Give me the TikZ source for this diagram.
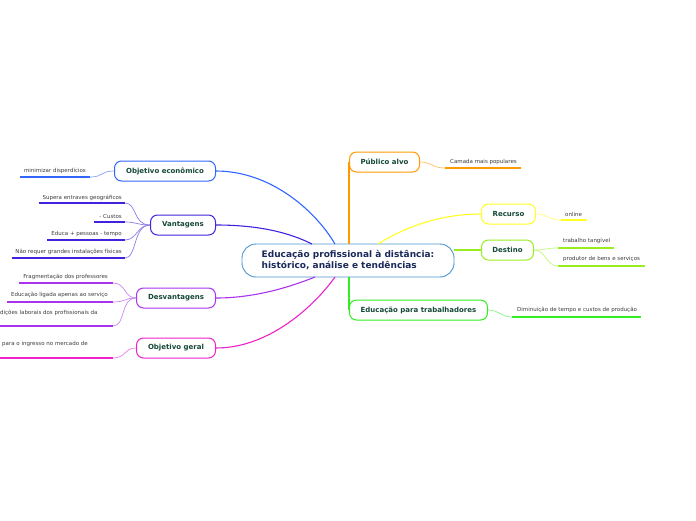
\documentclass[tikz,border=0pt]{standalone}
\usepackage{fontspec}
\setmainfont{DejaVu Sans}
\definecolor{mainline}{RGB}{74,150,210}
\definecolor{maintext}{RGB}{26,42,90}
\definecolor{topictext}{RGB}{22,72,58}
\definecolor{leaftext}{RGB}{60,60,60}
\definecolor{econ}{RGB}{51,102,255}
\definecolor{vant}{RGB}{68,34,221}
\definecolor{desv}{RGB}{170,51,238}
\definecolor{geral}{RGB}{238,34,204}
\definecolor{publico}{RGB}{255,153,0}
\definecolor{recurso}{RGB}{255,255,34}
\definecolor{destino}{RGB}{153,238,34}
\definecolor{trab}{RGB}{51,238,34}
\begin{document}
\begin{tikzpicture}[x=1pt,y=-1pt,
    topic/.style={draw, rounded corners=7pt, line width=1pt, fill=white, text=topictext,
      font=\fontsize{7}{8}\selectfont\bfseries, minimum height=20pt, inner xsep=3pt},
    leaf/.style={font=\fontsize{5.5}{6.5}\selectfont, text=leaftext, inner sep=0pt},
    branch/.style={line width=1.1pt},
    under/.style={line width=1.4pt},
    twig/.style={line width=0.7pt}]
  \useasboundingbox (0,0) rectangle (696,520);

  % central topic
  \node[draw=mainline, line width=0.9pt, rounded corners=14pt, fill=white, text=maintext,
    font=\fontsize{9}{11}\selectfont\bfseries, align=left, minimum width=212pt,
    minimum height=33pt] (main) at (348,260.5)
    {Educação profissional à distância:\\histórico, análise e tendências};

  % main topics
  \node[topic, draw=econ, minimum width=101pt, anchor=east] (econ) at (216,171) {Objetivo econômico};
  \node[topic, draw=vant, minimum width=65pt, anchor=east] (vant) at (216,225) {Vantagens};
  \node[topic, draw=desv, minimum width=79pt, anchor=east] (desv) at (216,298) {Desvantagens};
  \node[topic, draw=geral, minimum width=79pt, anchor=east] (geral) at (216,348) {Objetivo geral};
  \node[topic, draw=publico, minimum width=70pt, anchor=west] (publico) at (349,162) {Público alvo};
  \node[topic, draw=recurso, minimum width=54pt, anchor=west] (recurso) at (481,214) {Recurso};
  \node[topic, draw=destino, minimum width=52pt, anchor=west] (destino) at (481,250) {Destino};
  \node[topic, draw=trab, minimum width=138pt, anchor=west] (trab) at (349,310) {Educação para trabalhadores};

  % branches from the central topic
  \coordinate (m1) at (335,244);
  \coordinate (m2) at (312,244);
  \coordinate (m3) at (315,277);
  \coordinate (m4) at (335,277);
  \coordinate (m5) at (378,244);
  \coordinate (m6) at (454,250);
  \draw[econ, branch] (econ.east) .. controls (270,171) and (315,210) .. (m1);
  \draw[vant, branch] (vant.east) .. controls (260,225) and (290,233) .. (m2);
  \draw[desv, branch] (desv.east) .. controls (255,298) and (290,287) .. (m3);
  \draw[geral, branch] (geral.east) .. controls (270,348) and (315,305) .. (m4);
  \draw[recurso, branch] (m5) .. controls (410,224) and (445,214) .. (recurso.west);
  \draw[destino, branch] (m6) -- (destino.west);
  \draw[publico, line width=1.6pt] (publico.west) -- (publico.west |- main.north);
  \draw[trab, line width=1.6pt] (trab.west) -- (trab.west |- main.south);

  % leaves on the left
  \coordinate (e1a) at (20,177);  \coordinate (e1b) at (90,177);
  \coordinate (v1a) at (39,203);  \coordinate (v1b) at (125,203);
  \coordinate (v2a) at (94,222);  \coordinate (v2b) at (125,222);
  \coordinate (v3a) at (47,240);  \coordinate (v3b) at (125,240);
  \coordinate (v4a) at (12,258);  \coordinate (v4b) at (125,258);
  \coordinate (d1a) at (19,283);  \coordinate (d1b) at (113,283);
  \coordinate (d2a) at (7,302);   \coordinate (d2b) at (113,302);
  \coordinate (d3a) at (0,326);   \coordinate (d3b) at (113,326);
  \coordinate (g1a) at (0,358);   \coordinate (g1b) at (113,358);

  \draw[econ, under] (e1a) -- (e1b);
  \draw[vant, under] (v1a) -- (v1b);
  \draw[vant, under] (v2a) -- (v2b);
  \draw[vant, under] (v3a) -- (v3b);
  \draw[vant, under] (v4a) -- (v4b);
  \draw[desv, under] (d1a) -- (d1b);
  \draw[desv, under] (d2a) -- (d2b);
  \draw[desv, under] (d3a) -- (d3b);
  \draw[geral, under] (g1a) -- (g1b);

  \node[leaf, anchor=east] (e1) at (86,171) {minimizar disperdícios};
  \node[leaf, anchor=east] (v1) at (122,198) {Supera entraves geográficos};
  \node[leaf, anchor=east] (v2) at (122,216) {- Custos};
  \node[leaf, anchor=east] (v3) at (122,234) {Educa + pessoas - tempo};
  \node[leaf, anchor=east] (v4) at (122,252) {Não requer grandes instalações físicas};
  \node[leaf, anchor=east] (d1) at (108,277) {Fragmentação dos professores};
  \node[leaf, anchor=east] (d2) at (108,294.5) {Educação ligada apenas ao serviço};
  \node[leaf, anchor=west] (d3) at (0,313) {dições laborais dos profissionais da};
  \node[leaf, anchor=west] (g1) at (2,344) {para o ingresso no mercado de};

  \draw[econ!60, twig] (econ.west) .. controls (100,171) and (104,177) .. (e1b);
  \draw[vant!60, twig] (vant.west) .. controls (133,225) and (137,203) .. (v1b);
  \draw[vant!60, twig] (vant.west) .. controls (137,225) and (137,222) .. (v2b);
  \draw[vant!60, twig] (vant.west) .. controls (137,225) and (137,240) .. (v3b);
  \draw[vant!60, twig] (vant.west) .. controls (133,225) and (137,258) .. (v4b);
  \draw[desv!60, twig] (desv.west) .. controls (124,298) and (126,283) .. (d1b);
  \draw[desv!60, twig] (desv.west) .. controls (124,298) and (126,302) .. (d2b);
  \draw[desv!60, twig] (desv.west) .. controls (120,298) and (126,326) .. (d3b);
  \draw[geral!60, twig] (geral.west) .. controls (124,348) and (126,358) .. (g1b);

  % leaves on the right
  \coordinate (p1a) at (445,168); \coordinate (p1b) at (521,168);
  \coordinate (r1a) at (561,220); \coordinate (r1b) at (587,220);
  \coordinate (t1a) at (558,248); \coordinate (t1b) at (614,248);
  \coordinate (t2a) at (558,266); \coordinate (t2b) at (645,266);
  \coordinate (w1a) at (512,317); \coordinate (w1b) at (641,317);

  \draw[publico, under] (p1a) -- (p1b);
  \draw[recurso, under] (r1a) -- (r1b);
  \draw[destino, under] (t1a) -- (t1b);
  \draw[destino, under] (t2a) -- (t2b);
  \draw[trab, under] (w1a) -- (w1b);

  \node[leaf, anchor=west] (p1) at (450,162) {Camada mais populares};
  \node[leaf, anchor=west] (r1) at (565,214) {online};
  \node[leaf, anchor=west] (t1) at (563,241) {trabalho tangível};
  \node[leaf, anchor=west] (t2) at (563,259) {produtor de bens e serviços};
  \node[leaf, anchor=west] (w1) at (517,310) {Diminuição de tempo e custos de produção};

  \draw[publico!60, twig] (publico.east) .. controls (432,162) and (432,168) .. (p1a);
  \draw[recurso!60, twig] (recurso.east) .. controls (548,214) and (548,220) .. (r1a);
  \draw[destino!60, twig] (destino.east) .. controls (546,250) and (546,248) .. (t1a);
  \draw[destino!60, twig] (destino.east) .. controls (546,250) and (546,266) .. (t2a);
  \draw[trab!60, twig] (trab.east) .. controls (500,310) and (500,317) .. (w1a);
\end{tikzpicture}
\end{document}
